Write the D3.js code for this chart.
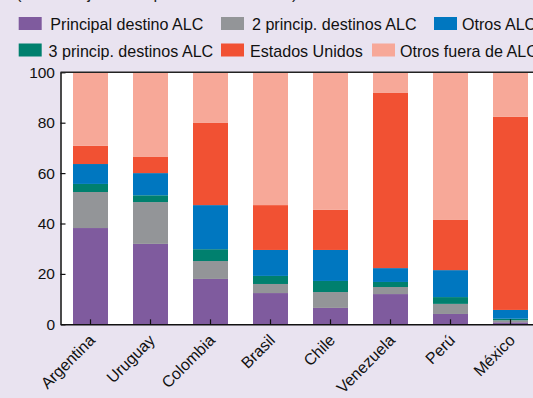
<!DOCTYPE html>
<html><head><meta charset="utf-8">
<script src="https://cdn.jsdelivr.net/npm/d3@7"></script>
<style>
html,body{margin:0;padding:0;background:#e9e3f0;}
svg{display:block;font-family:"Liberation Sans",Arial,sans-serif;}
</style></head><body>
<svg id="c" width="533" height="398"></svg>
<script>
const categories = ["Argentina","Uruguay","Colombia","Brasil","Chile","Venezuela","Perú","México"];
const seriesNames = ["Principal destino ALC","2 princip. destinos ALC","3 princip. destinos ALC","Otros ALC","Estados Unidos","Otros fuera de ALC"];
const principal = [38.2, 31.9, 18.0, 12.4, 6.5, 12.0, 4.1, 0.8];
const dos       = [14.3, 16.6, 7.1, 3.6, 6.3, 2.8, 4.0, 0.8];
const tres      = [3.2, 2.7, 4.7, 3.2, 4.4, 2.0, 2.7, 0.6];
const otrosALC  = [7.9, 8.8, 17.5, 10.3, 12.3, 5.5, 10.7, 3.5];
const eeuu      = [7.2, 6.4, 32.6, 17.8, 15.9, 69.5, 19.9, 76.6];
const otrosFuera= [29.2, 33.6, 20.1, 52.7, 54.6, 8.2, 58.6, 17.7];
const yTicks = [0, 20, 40, 60, 80, 100];
const colors = ["#7f5b9e","#939598","#00806e","#0077c0","#f15133","#f7a898"];
// legend order: row 1 then row 2
const legendOrder = [0, 1, 3, 2, 4, 5];

const svg = d3.select("#c");
svg.append("rect").attr("width",533).attr("height",398).attr("fill","#e9e3f0");

// cut-off subtitle at top (only descenders visible)
svg.append("text").attr("x",16).attr("y",-1).attr("font-size",16.5).attr("fill","#222")
  .text("(Porcentajes de exportaciones totales)");

const keys = ["principal","dos","tres","otrosALC","eeuu","otrosFuera"];
const rows = categories.map((c,i)=>({cat:c, principal:principal[i], dos:dos[i], tres:tres[i], otrosALC:otrosALC[i], eeuu:eeuu[i], otrosFuera:otrosFuera[i]}));
const stack = d3.stack().keys(keys)(rows);

const x = d3.scaleBand().domain(categories).range([60.5, 540.5]).paddingInner(0.4167).paddingOuter(0.2083);
const y = d3.scaleLinear().domain([0,100]).range([324.3, 72.3]);

svg.append("rect").attr("x",60.5).attr("y",72.3).attr("width",480).attr("height",252).attr("fill","#fff");

svg.append("g").selectAll("g").data(stack).join("g").attr("fill",(d,i)=>colors[i])
  .selectAll("rect").data(d=>d).join("rect")
  .attr("x",d=>x(d.data.cat)).attr("width",x.bandwidth())
  .attr("y",d=>y(Math.min(100,d[1]))).attr("height",d=>y(d[0])-y(Math.min(100,d[1])));

// axes
const yAxis = d3.axisLeft(y).tickValues(yTicks).tickSizeInner(-5).tickSizeOuter(0).tickPadding(5.5);
const gy = svg.append("g").attr("transform","translate(60.5,0)").call(yAxis);
gy.select(".domain").attr("stroke","#111").attr("stroke-width",1.5);
gy.selectAll(".tick line").attr("stroke","#111").attr("stroke-width",1.2);
gy.selectAll(".tick text").attr("font-size",15.5).attr("fill","#111").attr("font-family","Liberation Sans, Arial, sans-serif");

const xAxis = d3.axisBottom(x).tickSizeInner(-5).tickSizeOuter(0).tickPadding(6);
const gx = svg.append("g").attr("transform","translate(0,324.3)").call(xAxis);
gx.select(".domain").attr("stroke","#111").attr("stroke-width",1.5);
gx.selectAll(".tick line").attr("stroke","#111").attr("stroke-width",1.2);
gx.selectAll(".tick text").attr("font-size",16).attr("fill","#111").attr("font-family","Liberation Sans, Arial, sans-serif")
  .attr("text-anchor","end").attr("x",0).attr("y",0).attr("dy","0").attr("transform","translate(5.5,17) rotate(-45)");

svg.append("line").attr("x1",60.5).attr("x2",533).attr("y1",72.3).attr("y2",72.3).attr("stroke","#222").attr("stroke-width",1.5);

// legend
const legendPos = [[18.7,17,50.3],[221,17,252],[434,17,462],[18.7,43.5,48.6],[221,43.5,250],[372,43.5,400]];
const leg = svg.append("g");
legendOrder.forEach((si,i)=>{
  const [lx,ly,tx] = legendPos[i];
  leg.append("rect").attr("x",lx).attr("y",ly).attr("width",23).attr("height",13).attr("fill",colors[si]);
  leg.append("text").attr("x",tx).attr("y",ly+13).attr("font-size",16.1).attr("fill","#111").text(seriesNames[si]);
});
</script></body></html>
